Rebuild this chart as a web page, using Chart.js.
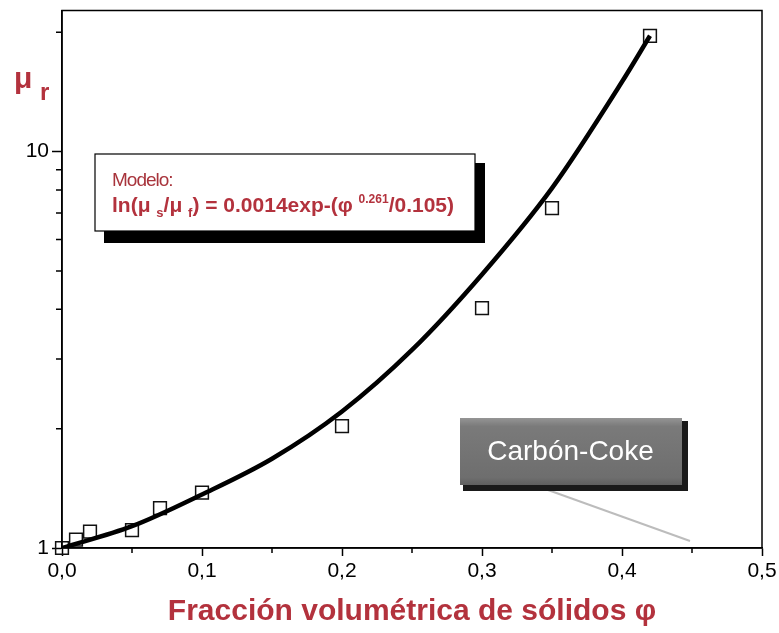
<!DOCTYPE html>
<html>
<head>
<meta charset="utf-8">
<script src="https://cdn.jsdelivr.net/npm/chart.js@4.4.0/dist/chart.umd.min.js"></script>
<style>
  html, body { margin: 0; padding: 0; background: #fff; }
  #wrap { position: relative; width: 779px; height: 633px; }
</style>
</head>
<body>
<div id="wrap"><canvas id="viscChart" width="779" height="633"></canvas></div>
<script>
// measured relative viscosity vs. solids volume fraction
const phiData = [0.0, 0.01, 0.02, 0.05, 0.07, 0.10, 0.20, 0.30, 0.35, 0.42];
const muData = [1.0, 1.05, 1.10, 1.11, 1.26, 1.38, 2.03, 4.03, 7.20, 19.6];

// fitted model curve
const fitPhi = [0.0, 0.05, 0.10, 0.15, 0.20, 0.25, 0.30, 0.35, 0.40, 0.42];
const fitMu = [1.0, 1.135, 1.365, 1.68, 2.21, 3.16, 4.90, 8.09, 15.0, 19.6];

// axis ticks
const xMajor = [0, 0.1, 0.2, 0.3, 0.4, 0.5];
const xMinor = [0.05, 0.15, 0.25, 0.35, 0.45];
const yMajor = [1, 10];
const yMinor = [2, 3, 4, 5, 6, 7, 8, 9, 20];

const RED = '#b3323d';
const FONT = '"Liberation Sans", Arial, sans-serif';

const frameAndNotes = {
    id: 'frameAndNotes',
    afterDraw(chart) {
        const ctx = chart.ctx;
        const ca = chart.chartArea;
        const xs = chart.scales.x, ys = chart.scales.y;
        ctx.save();
        ctx.strokeStyle = '#000';
        ctx.lineWidth = 1.5;
        ctx.strokeRect(ca.left, ca.top, ca.right - ca.left, ca.bottom - ca.top);

        // short minor ticks
        ctx.beginPath();
        xMinor.forEach(v => {
            const px = xs.getPixelForValue(v);
            ctx.moveTo(px, ca.bottom);
            ctx.lineTo(px, ca.bottom + 5);
        });
        yMinor.forEach(v => {
            const py = ys.getPixelForValue(v);
            ctx.moveTo(ca.left - 6, py);
            ctx.lineTo(ca.left, py);
        });
        ctx.stroke();

        // y axis label: mu_r
        ctx.fillStyle = RED;
        ctx.textBaseline = 'alphabetic';
        ctx.font = 'bold 30px ' + FONT;
        ctx.fillText('μ', 14, 88);
        ctx.font = 'bold 24px ' + FONT;
        ctx.fillText('r', 40, 100);

        // model box with drop shadow
        ctx.fillStyle = '#000';
        ctx.fillRect(104, 163, 381, 80);
        ctx.fillStyle = '#fff';
        ctx.fillRect(95, 154, 380, 77);
        ctx.lineWidth = 1.2;
        ctx.strokeRect(95, 154, 380, 77);

        ctx.fillStyle = '#a8343c';
        ctx.font = '19px ' + FONT;
        ctx.letterSpacing = '-1px';
        ctx.fillText('Modelo:', 112, 186);
        ctx.letterSpacing = '0px';

        // ln(mu_s/mu_f) = 0.0014exp-(phi^0.261/0.105)
        const parts = [
            ['ln(μ ', 0, 21], ['s', 5, 13], ['/μ ', 0, 21], ['f', 5, 13],
            [') = 0.0014exp-(φ ', 0, 21], ['0.261', -9, 12], ['/0.105)', 0, 21]
        ];
        let x = 112;
        ctx.fillStyle = RED;
        parts.forEach(([t, dy, size]) => {
            ctx.font = 'bold ' + size + 'px ' + FONT;
            ctx.fillText(t, x, 212 + dy);
            x += ctx.measureText(t).width;
        });

        // faint pointer line under the label
        ctx.strokeStyle = 'rgba(160,160,160,0.7)';
        ctx.lineWidth = 2;
        ctx.beginPath();
        ctx.moveTo(548, 490);
        ctx.lineTo(690, 541);
        ctx.stroke();

        // Carbón-Coke label button
        const bx = 460, by = 418, bw = 225, bh = 70;
        ctx.fillStyle = '#1a1a1a';
        ctx.fillRect(bx + 3, by + 3, bw, bh);
        const g = ctx.createLinearGradient(0, by, 0, by + bh);
        g.addColorStop(0, '#959595');
        g.addColorStop(0.12, '#7a7a7a');
        g.addColorStop(0.85, '#6e6e6e');
        g.addColorStop(1, '#5a5a5a');
        ctx.fillStyle = g;
        ctx.fillRect(bx, by, bw - 3, bh - 3);
        ctx.fillStyle = '#fff';
        ctx.font = '28px ' + FONT;
        ctx.textAlign = 'center';
        ctx.textBaseline = 'middle';
        ctx.fillText('Carbón-Coke', bx + bw / 2 - 2, by + bh / 2 - 1);
        ctx.restore();
    }
};

new Chart(document.getElementById('viscChart'), {
    type: 'scatter',
    data: {
        datasets: [{
            label: 'Modelo',
            type: 'line',
            data: fitPhi.map((p, i) => ({ x: p, y: fitMu[i] })),
            borderColor: '#000',
            borderWidth: 4.5,
            pointRadius: 0,
            cubicInterpolationMode: 'monotone',
            fill: false
        }, {
            label: 'Carbón-Coke',
            data: phiData.map((p, i) => ({ x: p, y: muData[i] })),
            pointStyle: 'rect',
            pointRadius: 9,
            borderColor: '#111',
            borderWidth: 1.5,
            backgroundColor: 'rgba(0,0,0,0)',
            clip: false
        }]
    },
    plugins: [frameAndNotes],
    options: {
        responsive: false,
        animation: false,
        events: [],
        layout: { padding: { left: 0, right: 17, top: 10, bottom: 0 } },
        plugins: {
            legend: { display: false },
            tooltip: { enabled: false }
        },
        scales: {
            x: {
                type: 'linear',
                min: 0,
                max: 0.5,
                afterBuildTicks: s => { s.ticks = xMajor.map(v => ({ value: v })); },
                afterFit: s => { s.height = 85; s.paddingLeft = 0; s.paddingRight = 0; },
                ticks: {
                    color: '#000',
                    font: { family: FONT, size: 21 },
                    padding: 3,
                    maxRotation: 0,
                    callback: v => v.toFixed(1).replace('.', ',')
                },
                grid: { drawOnChartArea: false, color: '#000', tickLength: 8, tickWidth: 1.5 },
                border: { color: '#000', width: 1.5 },
                title: {
                    display: true,
                    text: 'Fracción volumétrica de sólidos φ',
                    color: RED,
                    font: { family: FONT, size: 30, weight: 'bold' },
                    padding: { top: 0, bottom: 3 }
                }
            },
            y: {
                type: 'logarithmic',
                min: 1,
                max: 22.7,
                afterBuildTicks: s => { s.ticks = yMajor.map(v => ({ value: v })); },
                afterFit: s => { s.width = 62; s.paddingTop = 0; s.paddingBottom = 0; },
                ticks: {
                    color: '#000',
                    font: { family: FONT, size: 21 },
                    padding: 3,
                    callback: v => String(v)
                },
                grid: { drawOnChartArea: false, color: '#000', tickLength: 10, tickWidth: 1.5 },
                border: { color: '#000', width: 1.5 }
            }
        }
    }
});
</script>
</body>
</html>
